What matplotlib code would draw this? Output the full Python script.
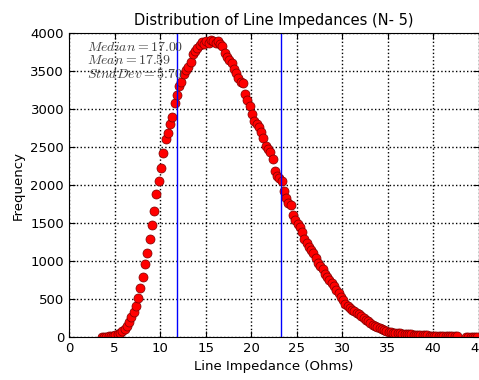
import matplotlib
matplotlib.use("Agg")
import matplotlib.pyplot as plt

# impedance (Ohms) and how often it occurs
impedance = [
    3.6, 3.85, 4.1, 4.35, 4.6, 4.85, 5.1, 5.35, 5.6, 5.85,
    6.1, 6.35, 6.6, 6.85, 7.1, 7.35, 7.6, 7.85, 8.1, 8.35,
    8.6, 8.85, 9.1, 9.35, 9.6, 9.85, 10.1, 10.35, 10.6, 10.85,
    11.1, 11.35, 11.6, 11.85, 12.1, 12.35, 12.6, 12.85, 13.1, 13.35,
    13.6, 13.85, 14.1, 14.35, 14.6, 14.85, 15.1, 15.35, 15.6, 15.85,
    16.1, 16.35, 16.6, 16.85, 17.1, 17.35, 17.6, 17.85, 18.1, 18.35,
    18.6, 18.85, 19.1, 19.35, 19.6, 19.85, 20.1, 20.35, 20.6, 20.85,
    21.1, 21.35, 21.6, 21.85, 22.1, 22.35, 22.6, 22.85, 23.1, 23.35,
    23.6, 23.85, 24.1, 24.35, 24.6, 24.85, 25.1, 25.35, 25.6, 25.85,
    26.1, 26.35, 26.6, 26.85, 27.1, 27.35, 27.6, 27.85, 28.1, 28.35,
    28.6, 28.85, 29.1, 29.35, 29.6, 29.85, 30.1, 30.35, 30.6, 30.85,
    31.1, 31.35, 31.6, 31.85, 32.1, 32.35, 32.6, 32.85, 33.1, 33.35,
    33.6, 33.85, 34.1, 34.35, 34.6, 34.85, 35.1, 35.35, 35.6, 35.85,
    36.1, 36.35, 36.6, 36.85, 37.1, 37.35, 37.6, 37.85, 38.1, 38.35,
    38.6, 38.85, 39.1, 39.35, 39.6, 39.85, 40.1, 40.35, 40.6, 40.85,
    41.1, 41.35, 41.6, 41.85, 42.1, 42.35, 42.6,
    43.6, 43.85, 44.1, 44.35, 44.6, 44.85,
]
frequency = [
    2, 3, 5, 8, 12, 18, 28, 40, 60, 80,
    110, 150, 200, 260, 330, 410, 520, 640, 790, 960,
    1110, 1290, 1480, 1660, 1880, 2060, 2230, 2420, 2600, 2690,
    2800, 2900, 3080, 3180, 3300, 3350, 3460, 3510, 3560, 3620,
    3720, 3760, 3800, 3840, 3880, 3850, 3890, 3870, 3910, 3900,
    3870, 3890, 3850, 3830, 3740, 3680, 3640, 3600, 3530, 3480,
    3410, 3350, 3340, 3200, 3120, 3040, 2940, 2840, 2800, 2760,
    2700, 2620, 2520, 2470, 2440, 2340, 2180, 2120, 2090, 2050,
    1920, 1830, 1760, 1740, 1610, 1540, 1490, 1450, 1380, 1290,
    1240, 1190, 1150, 1100, 1040, 980, 930, 890, 830, 790,
    750, 710, 670, 620, 580, 530, 490, 440, 410, 380,
    360, 340, 320, 300, 280, 255, 230, 210, 185, 165,
    150, 135, 120, 105, 90, 80, 70, 65, 60, 55,
    52, 48, 45, 42, 40, 37, 35, 33, 31, 29,
    27, 25, 24, 22, 20, 19, 17, 16, 15, 14,
    13, 12, 11, 10, 10, 9, 8,
    7, 6, 6, 5, 5, 4,
]

median = 17.00
mean = 17.59
std_dev = 5.70

plt.rcParams["mathtext.fontset"] = "cm"

fig = plt.figure(figsize=(4.79, 3.8), dpi=100)
ax = fig.add_axes([0.144, 0.113, 0.8555, 0.8])

ax.plot(impedance, frequency, "o", color="red", markersize=6.5,
        markeredgecolor="#7a0000", markeredgewidth=0.5)
ax.axvline(mean - std_dev, color="blue", lw=1)
ax.axvline(mean + std_dev, color="blue", lw=1)

ax.set_xlim(0, 45)
ax.set_ylim(0, 4000)
ax.set_xticks(range(0, 46, 5))
ax.set_yticks(range(0, 4001, 500))
ax.tick_params(direction="in", top=True, right=True, labelsize=9.5, length=4)
ax.grid(True, color="black", linestyle=":", linewidth=1)

ax.set_title("Distribution of Line Impedances (N- 5)", fontsize=10.5)
ax.set_xlabel("Line Impedance (Ohms)", fontsize=9.5)
ax.set_ylabel("Frequency", fontsize=9.5)

# overlapping stats labels, as in the original
stats = [r"$Median = %.2f$" % median, r"$Mean = %.2f$" % mean,
         r"$StndDev = %.2f$" % std_dev]
for i, s in enumerate(stats):
    ax.text(0.044, 0.955 - i * 0.045, s, transform=ax.transAxes,
            fontsize=10, color="#444444", va="center", ha="left")

fig.savefig("out.png", dpi=100)
